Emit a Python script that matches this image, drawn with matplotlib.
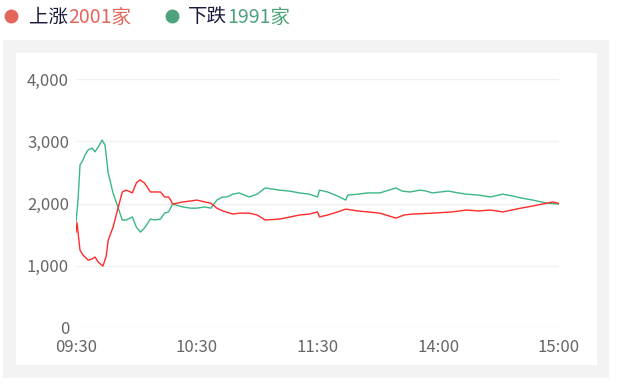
import matplotlib.pyplot as plt
from matplotlib.patches import Rectangle
from matplotlib.lines import Line2D

plt.rcParams['font.family'] = ['Noto Sans CJK SC', 'DejaVu Sans']

# minutes since 09:30 (trading time, lunch break removed)
up_t = [0, 0.5, 2, 3.5, 5, 6, 8, 9.5, 11, 13.4, 15, 16, 18.4, 21, 23, 25, 28, 30, 31.8,
        34, 37, 39, 42, 44, 46, 47, 48, 53, 57, 60, 64, 67, 70, 73, 78, 81, 86, 90, 94,
        101, 106, 111, 116, 120, 121, 125, 130, 134, 140, 145, 151, 159, 163, 167, 177,
        187, 194, 200, 206, 212, 221, 227, 234, 237, 240]
up_v = [1540, 1690, 1250, 1170, 1125, 1090, 1110, 1140, 1060, 995, 1155, 1410, 1620, 1940,
        2185, 2215, 2170, 2330, 2380, 2330, 2185, 2185, 2185, 2105, 2105, 2055, 1990, 2025,
        2040, 2055, 2025, 2005, 1925, 1880, 1830, 1845, 1845, 1815, 1735, 1750, 1780, 1815,
        1830, 1865, 1785, 1815, 1865, 1910, 1880, 1865, 1845, 1765, 1815, 1830, 1845, 1865,
        1895, 1880, 1895, 1865, 1925, 1960, 2005, 2025, 2001]

down_t = [0, 1, 2, 3.5, 4.5, 6, 8, 9.4, 11, 13, 14.4, 16, 18.4, 21, 23, 25, 28, 30, 32,
          34, 37, 39, 42, 44, 46, 48, 53, 57, 60, 64, 67, 70, 73, 75, 78, 81, 86, 90, 94,
          101, 106, 111, 116, 120, 121, 125, 130, 134, 135, 140, 145, 151, 159, 162, 166,
          171, 174, 177, 185, 190, 194, 200, 206, 212, 217, 221, 227, 234, 240]
down_v = [1700, 2055, 2620, 2700, 2780, 2860, 2890, 2830, 2905, 3020, 2940, 2490, 2170,
          1925, 1735, 1735, 1785, 1620, 1540, 1605, 1750, 1735, 1750, 1845, 1865, 1990,
          1945, 1925, 1925, 1945, 1925, 2055, 2105, 2105, 2150, 2170, 2105, 2150, 2250,
          2215, 2200, 2170, 2150, 2105, 2215, 2185, 2120, 2055, 2135, 2150, 2170, 2170,
          2250, 2200, 2185, 2215, 2200, 2170, 2200, 2170, 2150, 2135, 2105, 2150, 2120,
          2090, 2055, 2005, 1991]

x_ticks = [0, 60, 120, 180, 240]
x_labels = ['09:30', '10:30', '11:30', '14:00', '15:00']
y_ticks = [0, 1000, 2000, 3000, 4000]
y_labels = ['0', '1,000', '2,000', '3,000', '4,000']

W, H = 619, 390
fig = plt.figure(figsize=(W / 100, H / 100), dpi=100)
fig.patch.set_facecolor('white')

# grey card and white inner panel
fig.patches.append(Rectangle((3 / W, 1 - 378 / H), 606 / W, 338 / H, transform=fig.transFigure,
                             facecolor='#f3f3f3', edgecolor='none', zorder=-2))
fig.patches.append(Rectangle((16 / W, 1 - 365 / H), 581 / W, 312 / H, transform=fig.transFigure,
                             facecolor='white', edgecolor='none', zorder=-1))

ax = fig.add_axes([76 / W, 1 - 328 / H, 483 / W, 249 / H])
ax.set_facecolor('none')
ax.plot(down_t, down_v, color='#3bb784', lw=1.0)
ax.plot(up_t, up_v, color='#ff2a2a', lw=1.0)

ax.set_xlim(0, 240)
ax.set_ylim(0, 4000)
ax.set_xticks(x_ticks)
ax.set_xticklabels(x_labels)
ax.set_yticks(y_ticks)
ax.set_yticklabels(y_labels)
ax.tick_params(length=0, labelcolor='#666666', labelsize=12)
ax.tick_params(axis='x', pad=8)
ax.tick_params(axis='y', pad=5)
ax.grid(axis='y', color='#f0f0f0', lw=1)
ax.set_axisbelow(True)
for s in ax.spines.values():
    s.set_visible(False)

# legend
fig.add_artist(Line2D([11 / W], [1 - 16 / H], marker='o', markersize=9, color='#e3665b',
                      transform=fig.transFigure))
fig.add_artist(Line2D([172 / W], [1 - 16 / H], marker='o', markersize=9, color='#4fa37c',
                      transform=fig.transFigure))
renderer = fig.canvas.get_renderer()
ty = 1 - 17 / H


def legend_text(x, label, num, ncolor):
    t1 = fig.text(x / W, ty, label, color='#1a1a3a', fontsize=14, va='center')
    bb = t1.get_window_extent(renderer)
    fig.text(bb.x1 / W, ty, num, color=ncolor, fontsize=14, va='center')


legend_text(29, '上涨', '2001家', '#e3665b')
legend_text(188, '下跌', '1991家', '#4fa37c')

fig.savefig('out.png', dpi=100)
